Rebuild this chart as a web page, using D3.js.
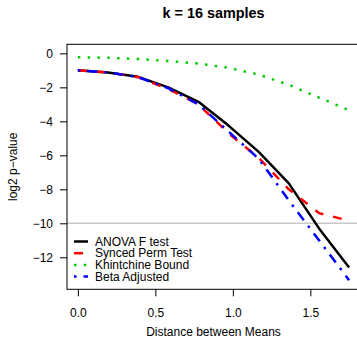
<!DOCTYPE html>
<html>
<head>
<meta charset="utf-8">
<script src="https://cdn.jsdelivr.net/npm/d3@7"></script>
<style>
  body { margin: 0; background: #fff; }
  text { font-family: "Liberation Sans", Arial, sans-serif; }
</style>
</head>
<body>
<svg id="chart" width="357" height="350"></svg>
<script>
// Values (log2 p-value by distance between means)
const distance = [0, 0.194, 0.389, 0.583, 0.778, 0.972, 1.167, 1.361, 1.556, 1.75];
const anovaF = [-1.0, -1.12, -1.38, -2.0, -2.85, -4.25, -5.8, -7.65, -10.3, -12.6];
const syncedPerm = [-1.0, -1.12, -1.4, -2.1, -3.0, -4.7, -6.15, -8.0, -9.4, -9.85];
const khintchine = [-0.23, -0.26, -0.33, -0.45, -0.6, -0.85, -1.25, -1.85, -2.6, -3.35];
const betaAdj = [-1.0, -1.12, -1.4, -2.05, -3.0, -4.6, -6.2, -8.65, -11.0, -13.35];

const xTicks = [0, 0.5, 1.0, 1.5];
const yTicks = [0, -2, -4, -6, -8, -10, -12];
const refLine = -10;
const seriesNames = ["ANOVA F test", "Synced Perm Test", "Khintchine Bound", "Beta Adjusted"];
const seriesValues = [anovaF, syncedPerm, khintchine, betaAdj];

// styles for each series (R-like lty)
const seriesColors = ["#000000", "#ff0000", "#00cd00", "#0000ff"];
const seriesDash = [null, "9,10", "2.5,7.3", "2.5,7,10,7"];

// plot region, like R's default 4% axis expansion
const plot = {left: 67, top: 44.3, bottom: 289.3};
const xlim = [0, 1.75], ylim = [-13.35, 0];
const xr = xlim[1] - xlim[0], yr = ylim[1] - ylim[0];
const pxPerX = 155;
plot.right = plot.left + pxPerX * xr * 1.08;

const x = d3.scaleLinear()
    .domain([xlim[0] - 0.04 * xr, xlim[1] + 0.04 * xr])
    .range([plot.left, plot.right]);
const y = d3.scaleLinear()
    .domain([ylim[0] - 0.04 * yr, ylim[1] + 0.04 * yr])
    .range([plot.bottom, plot.top]);

const svg = d3.select("#chart");

// title
svg.append("text")
    .attr("x", 213.5).attr("y", 18)
    .attr("text-anchor", "middle")
    .style("font-size", "14.4px")
    .style("font-weight", "bold")
    .text("k = 16 samples");

// reference line at -10
svg.append("line")
    .attr("x1", plot.left).attr("x2", plot.right)
    .attr("y1", y(refLine)).attr("y2", y(refLine))
    .attr("stroke", "#c8c8c8")
    .attr("stroke-width", 1.5);

// series lines
const line = d3.line()
    .x((d, i) => x(distance[i]))
    .y(d => y(d));

svg.append("defs").append("clipPath").attr("id", "clip")
    .append("rect")
    .attr("x", plot.left).attr("y", plot.top)
    .attr("width", plot.right - plot.left)
    .attr("height", plot.bottom - plot.top);

const drawOrder = [2, 0, 1, 3];
drawOrder.forEach(k => {
    svg.append("path")
        .attr("clip-path", "url(#clip)")
        .attr("d", line(seriesValues[k]))
        .attr("fill", "none")
        .attr("stroke", seriesColors[k])
        .attr("stroke-width", 2.5)
        .attr("stroke-dasharray", seriesDash[k])
        .attr("stroke-linejoin", "round");
});

// box
svg.append("rect")
    .attr("x", plot.left).attr("y", plot.top)
    .attr("width", plot.right - plot.left)
    .attr("height", plot.bottom - plot.top)
    .attr("fill", "none")
    .attr("stroke", "#000")
    .attr("stroke-width", 1);

// x axis
const xAxis = svg.append("g")
    .attr("transform", `translate(0,${plot.bottom})`)
    .call(d3.axisBottom(x).tickValues(xTicks).tickFormat(d3.format(".1f")).tickSize(7).tickPadding(12));
xAxis.select(".domain").remove();
xAxis.selectAll("text").style("font-size", "12px").style("font-family", "Liberation Sans, Arial, sans-serif");

// y axis
const yAxis = svg.append("g")
    .attr("transform", `translate(${plot.left},0)`)
    .call(d3.axisLeft(y).tickValues(yTicks).tickFormat(d => d3.format("d")(d).replace("-", "\u2212")).tickSize(7).tickPadding(7));
yAxis.select(".domain").remove();
yAxis.selectAll("text").style("font-size", "12px").style("font-family", "Liberation Sans, Arial, sans-serif");

// axis titles
svg.append("text")
    .attr("x", 213.5).attr("y", 336)
    .attr("text-anchor", "middle")
    .style("font-size", "12px")
    .text("Distance between Means");

svg.append("text")
    .attr("transform", `translate(17,${(plot.top + plot.bottom) / 2}) rotate(-90)`)
    .attr("text-anchor", "middle")
    .style("font-size", "12px")
    .text("log2 p\u2212value");

// legend (no border)
const legend = svg.append("g").attr("transform", "translate(74,241.5)");
const legendItems = legend.selectAll(".legend-item")
    .data(seriesNames)
    .enter()
    .append("g")
    .attr("class", "legend-item")
    .attr("transform", (d, i) => `translate(0,${i * 11.7})`);

legendItems.append("line")
    .attr("x1", 0).attr("x2", 14)
    .attr("y1", 0).attr("y2", 0)
    .attr("stroke", (d, i) => seriesColors[i])
    .attr("stroke-width", 2.5)
    .attr("stroke-dasharray", (d, i) => seriesDash[i]);

legendItems.append("text")
    .attr("x", 21)
    .attr("y", 0)
    .attr("dy", "0.35em")
    .style("font-size", "12px")
    .text(d => d);
</script>
</body>
</html>
